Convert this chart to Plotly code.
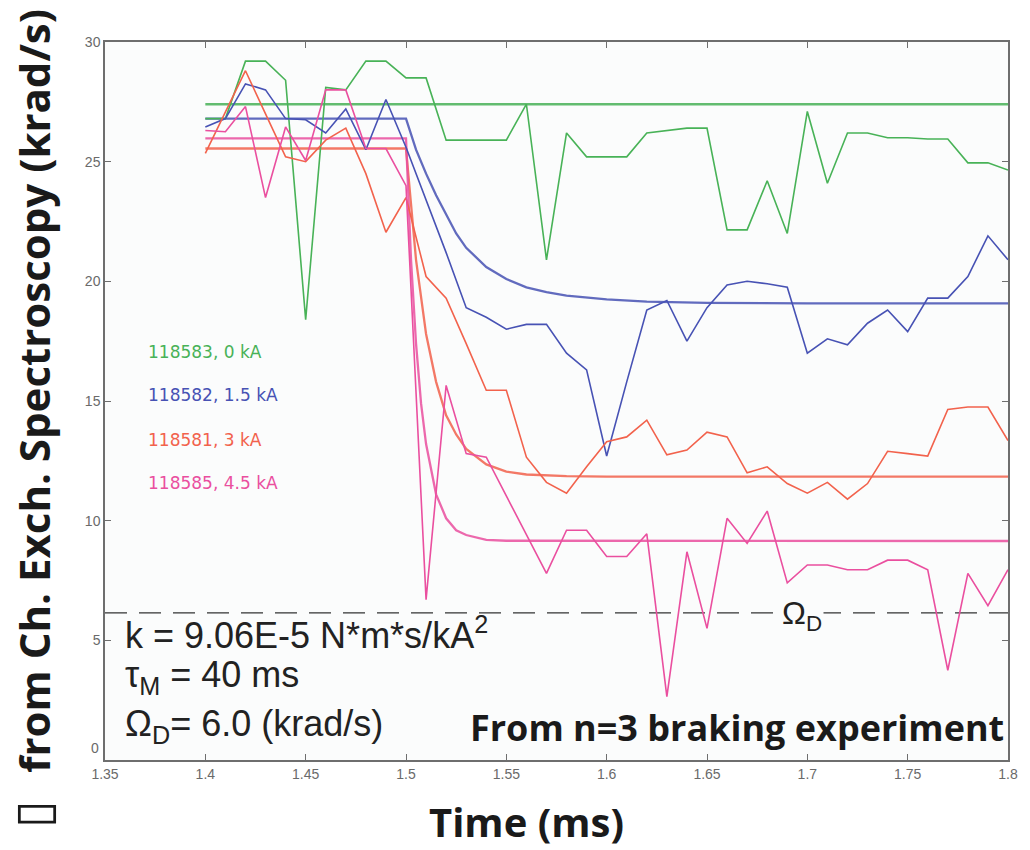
import plotly.graph_objects as go

# ---------------- data ----------------
time_ms = [1.40, 1.41, 1.42, 1.43, 1.44, 1.45, 1.46, 1.47, 1.48, 1.49,
           1.50, 1.51, 1.52, 1.53, 1.54, 1.55, 1.56, 1.57, 1.58, 1.59,
           1.60, 1.61, 1.62, 1.63, 1.64, 1.65, 1.66, 1.67, 1.68, 1.69,
           1.70, 1.71, 1.72, 1.73, 1.74, 1.75, 1.76, 1.77, 1.78, 1.79, 1.80]

shot_118583 = [26.8, 26.8, 29.2, 29.2, 28.4, 18.4, 28.1, 28.0, 29.2, 29.2,
               28.5, 28.5, 25.9, 25.9, 25.9, 25.9, 27.4, 20.9, 26.2, 25.2,
               25.2, 25.2, 26.2, 26.3, 26.4, 26.4, 22.15, 22.15, 24.2, 22.0,
               27.1, 24.1, 26.2, 26.2, 26.0, 26.0, 25.95, 25.95, 24.95, 24.95, 24.65]

shot_118582 = [26.45, 26.8, 28.25, 28.0, 26.8, 26.75, 26.2, 27.2, 25.5, 27.6,
               25.6, 23.4, 21.2, 18.9, 18.5, 18.0, 18.2, 18.2, 17.0, 16.3,
               12.7, 15.8, 18.8, 19.2, 17.5, 18.9, 19.85, 20.0, 19.9, 19.75,
               17.0, 17.6, 17.35, 18.25, 18.8, 17.9, 19.3, 19.3, 20.2, 21.9, 20.9]

shot_118581 = [25.35, 27.1, 28.8, 27.0, 25.2, 25.0, 25.9, 26.4, 24.5, 22.05,
               23.5, 20.2, 19.3, 17.4, 15.45, 15.45, 12.65, 11.6, 11.15, 12.25,
               13.3, 13.5, 14.2, 12.75, 12.95, 13.7, 13.5, 12.0, 12.25, 11.55,
               11.15, 11.6, 10.9, 11.55, 12.9, 12.8, 12.7, 14.65, 14.75, 14.75, 13.35]

shot_118585 = [26.3, 26.25, 27.3, 23.5, 26.45, 25.05, 28.0, 28.0, 25.55, 25.55,
               24.0, 6.7, 15.65, 12.8, 12.65, 11.05, 9.4, 7.8, 9.6, 9.6,
               8.5, 8.5, 9.45, 2.65, 8.7, 5.5, 10.1, 9.05, 10.4, 7.4,
               8.15, 8.15, 7.95, 7.95, 8.35, 8.35, 7.95, 3.75, 7.8, 6.45, 7.95]

# model (fit) curves, read at selected times
fit_118583_t = [1.40, 1.80]
fit_118583_v = [27.4, 27.4]

fit_118582_t = [1.40, 1.50, 1.505, 1.51, 1.515, 1.52, 1.525, 1.53, 1.54, 1.55,
                1.56, 1.57, 1.58, 1.60, 1.62, 1.65, 1.70, 1.80]
fit_118582_v = [26.8, 26.8, 25.5, 24.5, 23.6, 22.8, 22.0, 21.4, 20.6, 20.1,
                19.75, 19.55, 19.4, 19.25, 19.15, 19.1, 19.08, 19.08]

fit_118581_t = [1.40, 1.50, 1.505, 1.51, 1.515, 1.52, 1.525, 1.53, 1.54, 1.55,
                1.56, 1.58, 1.60, 1.80]
fit_118581_v = [25.55, 25.55, 20.9, 17.8, 15.8, 14.4, 13.6, 13.0, 12.35, 12.05,
                11.93, 11.86, 11.84, 11.84]

fit_118585_t = [1.40, 1.50, 1.5025, 1.505, 1.5075, 1.51, 1.515, 1.52, 1.525, 1.53,
                1.54, 1.55, 1.80]
fit_118585_v = [25.97, 25.97, 20.9, 17.4, 14.9, 13.2, 11.1, 10.1, 9.6, 9.4,
                9.2, 9.16, 9.15]

omega_d_t = [1.35, 1.80]
omega_d_v = [6.15, 6.15]

legend_labels = ["118583, 0 kA", "118582, 1.5 kA", "118581, 3 kA", "118585, 4.5 kA"]
legend_y = [17.05, 15.25, 13.37, 11.58]

x_ticks = [1.35, 1.40, 1.45, 1.50, 1.55, 1.60, 1.65, 1.70, 1.75, 1.80]
x_ticktext = ["1.35", "1.4", "1.45", "1.5", "1.55", "1.6", "1.65", "1.7", "1.75", "1.8"]
y_ticks = [0, 5, 10, 15, 20, 25, 30]
y_ticktext = ["", "5", "10", "15", "20", "25", "30"]   # "0" drawn raised, as in the reference

# ---------------- styling ----------------
GREEN = "#48b257"
BLUE = "#4752b4"
RED = "#f2624c"
PINK = "#ea4f9f"
colors = [GREEN, BLUE, RED, PINK]
TICK_FONT = dict(family="Liberation Sans Narrow, Arial Narrow, Liberation Sans",
                 size=14, color="#6a6a6a")

fig = go.Figure()

fits = [(fit_118583_t, fit_118583_v), (fit_118582_t, fit_118582_v),
        (fit_118581_t, fit_118581_v), (fit_118585_t, fit_118585_v)]
datas = [shot_118583, shot_118582, shot_118581, shot_118585]

fig.add_trace(go.Scatter(x=omega_d_t, y=omega_d_v, mode="lines",
                         line=dict(color="#333333", width=1.3, dash="22px,12px"),
                         showlegend=False, hoverinfo="skip"))

for (ft, fv), c in zip(fits, colors):
    fig.add_trace(go.Scatter(x=ft, y=fv, mode="lines",
                             line=dict(color=c, width=2.3), opacity=0.85,
                             showlegend=False))
for d, c in zip(datas, colors):
    fig.add_trace(go.Scatter(x=time_ms, y=d, mode="lines",
                             line=dict(color=c, width=1.6),
                             showlegend=False))

annotations = []
for lab, ly, c in zip(legend_labels, legend_y, colors):
    annotations.append(dict(x=1.3705, y=ly, xref="x", yref="y", text=lab,
                            showarrow=False, xanchor="left", yanchor="middle",
                            font=dict(family="DejaVu Sans", size=17, color=c)))

txt_font = dict(family="Liberation Sans, Arial", size=36, color="#222222")
annotations += [
    dict(x=0, y=0.5, xref="paper", yref="y", text="0", showarrow=False,
         xanchor="right", yanchor="middle", xshift=-4, font=TICK_FONT),
    dict(x=1.359, y=5.3, xref="x", yref="y", text="k = 9.06E-5 N*m*s/kA<sup>2</sup>",
         showarrow=False, xanchor="left", yanchor="middle", font=txt_font),
    dict(x=1.359, y=3.45, xref="x", yref="y", text="τ<sub>M</sub> = 40 ms",
         showarrow=False, xanchor="left", yanchor="middle", font=txt_font),
    dict(x=1.359, y=1.4, xref="x", yref="y", text="Ω<sub>D</sub>= 6.0 (krad/s)",
         showarrow=False, xanchor="left", yanchor="middle", font=txt_font),
    dict(x=1.6865, y=6.05, xref="x", yref="y", text="Ω<sub>D</sub>",
         showarrow=False, xanchor="left", yanchor="middle", bgcolor="#fbfcfc",
         font=dict(family="Liberation Sans, Arial", size=32, color="#222222")),
    dict(x=0.998, y=0.045, xref="paper", yref="paper", text="<b>From n=3 braking experiment</b>",
         showarrow=False, xanchor="right", yanchor="middle",
         font=dict(family="Open Sans", size=36, color="#1a1a1a")),
    dict(x=0.467, y=-0.086, xref="paper", yref="paper", text="<b>Time (ms)</b>",
         showarrow=False, xanchor="center", yanchor="middle",
         font=dict(family="Open Sans", size=40, color="#1a1a1a")),
    dict(x=-0.080, y=(760 - 391) / 718, xref="paper", yref="paper",
         text="<b>from Ch. Exch. Spectroscopy (krad/s)</b>", textangle=-90,
         showarrow=False, xanchor="center", yanchor="middle",
         font=dict(family="Open Sans", size=42, color="#1a1a1a")),
    dict(x=-0.080, y=(760 - 814) / 718, xref="paper", yref="paper",
         text="▯", textangle=-90,
         showarrow=False, xanchor="center", yanchor="middle",
         font=dict(family="DejaVu Sans", size=50, color="#1a1a1a")),
]

axis_common = dict(showline=True, linecolor="#6e6e6e", linewidth=1.5, mirror="ticks",
                   ticks="inside", ticklen=6, tickwidth=1.3, tickcolor="#6e6e6e",
                   showgrid=False, zeroline=False, tickfont=TICK_FONT)

fig.update_layout(
    width=1030, height=850,
    margin=dict(l=105, r=15, t=42, b=90),
    paper_bgcolor="white",
    plot_bgcolor="#fbfcfc",
    xaxis=dict(range=[1.35, 1.80], tickvals=x_ticks, ticktext=x_ticktext, **axis_common),
    yaxis=dict(range=[0, 30], tickvals=y_ticks, ticktext=y_ticktext, **axis_common),
    annotations=annotations,
    showlegend=False,
)

fig.write_html("out.html")
